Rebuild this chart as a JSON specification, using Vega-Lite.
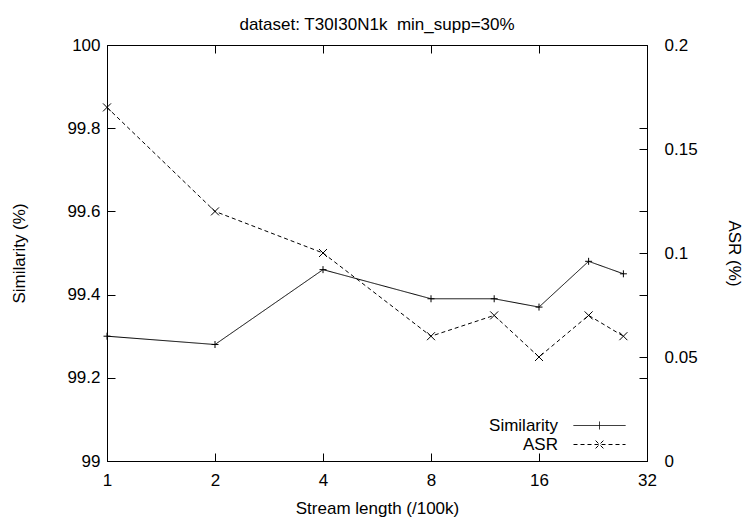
{
  "$schema": "https://vega.github.io/schema/vega-lite/v6.json",
  "width": 540,
  "height": 416,
  "autosize": {"type": "none"},
  "padding": {"left": 107, "top": 45, "right": 98, "bottom": 56},
  "background": "white",
  "title": {"text": "dataset: T30I30N1k\u00a0 min_supp=30%", "fontSize": 17, "fontWeight": "normal", "font": "Liberation Sans", "color": "black", "offset": 2},
  "config": {
    "font": "Liberation Sans",
    "view": {"stroke": "black", "strokeWidth": 1},
    "axis": {
      "grid": false,
      "domainColor": "black",
      "tickColor": "black",
      "tickSize": -8,
      "tickWidth": 1,
      "labelFontSize": 17,
      "labelColor": "black",
      "titleFontSize": 17,
      "titleFontWeight": "normal",
      "titleColor": "black",
      "labelFlush": false,
      "labelOverlap": false
    },
    "legend": {
      "orient": "none",
      "legendX": 466,
      "legendY": 372,
      "title": null,
      "symbolSize": 2704,
      "symbolStrokeWidth": 1,
      "symbolStrokeColor": "black",
      "labelFontSize": 17,
      "labelColor": "black",
      "rowPadding": 1
    }
  },
  "data": {
    "values": [
      {"length": 1, "series": "Similarity", "value": 99.30},
      {"length": 2, "series": "Similarity", "value": 99.28},
      {"length": 4, "series": "Similarity", "value": 99.46},
      {"length": 8, "series": "Similarity", "value": 99.39},
      {"length": 12, "series": "Similarity", "value": 99.39},
      {"length": 16, "series": "Similarity", "value": 99.37},
      {"length": 22, "series": "Similarity", "value": 99.48},
      {"length": 27.5, "series": "Similarity", "value": 99.45},
      {"length": 1, "series": "ASR", "value": 0.17},
      {"length": 2, "series": "ASR", "value": 0.12},
      {"length": 4, "series": "ASR", "value": 0.10},
      {"length": 8, "series": "ASR", "value": 0.06},
      {"length": 12, "series": "ASR", "value": 0.07},
      {"length": 16, "series": "ASR", "value": 0.05},
      {"length": 22, "series": "ASR", "value": 0.07},
      {"length": 27.5, "series": "ASR", "value": 0.06}
    ]
  },
  "layer": [
    {
      "transform": [{"filter": "datum.series === 'Similarity'"}],
      "encoding": {
        "x": {
          "field": "length", "type": "quantitative",
          "scale": {"type": "log", "base": 2, "domain": [1, 32]},
          "axis": {"orient": "bottom", "values": [1, 2, 4, 8, 16, 32], "format": "~g", "title": "Stream length (/100k)", "labelPadding": 19, "titlePadding": 12}
        },
        "y": {
          "field": "value", "type": "quantitative",
          "scale": {"domain": [99, 100], "zero": false},
          "axis": {"orient": "left", "values": [99, 99.2, 99.4, 99.6, 99.8, 100], "format": "~g", "title": "Similarity (%)", "labelPadding": 15, "titlePadding": 38}
        }
      },
      "layer": [
        {
          "mark": {"type": "line", "color": "black", "strokeWidth": 1},
          "encoding": {
            "strokeDash": {
              "field": "series", "type": "nominal",
              "scale": {"domain": ["Similarity", "ASR"], "range": [[1, 0], [4, 3]]},
              "legend": {
                "encode": {
                  "symbols": {"update": {
                    "shape": {"signal": "datum.value === 'Similarity' ? 'M-1,0H1M0,-0.15V0.15' : 'M-1,0H1M-0.15,-0.15L0.15,0.15M-0.15,0.15L0.15,-0.15'"},
                    "stroke": {"value": "black"},
                    "fill": {"value": "transparent"},
                    "y": {"value": 8.5}
                  }},
                  "labels": {"update": {"x": {"value": -15}, "y": {"value": 8.5}, "align": {"value": "right"}}}
                }
              }
            }
          }
        },
        {
          "mark": {"type": "point", "shape": "M-1,0H1M0,-1V1", "size": 49, "filled": false, "color": "black", "strokeWidth": 1, "opacity": 1}
        }
      ]
    },
    {
      "transform": [{"filter": "datum.series === 'ASR'"}],
      "encoding": {
        "x": {
          "field": "length", "type": "quantitative",
          "scale": {"type": "log", "base": 2, "domain": [1, 32]},
          "axis": {"orient": "top", "values": [2, 4, 8, 16], "labels": false, "title": null}
        },
        "y": {
          "field": "value", "type": "quantitative",
          "scale": {"domain": [0, 0.2]},
          "axis": {
            "orient": "right",
            "values": [0, 0.04, 0.05, 0.08, 0.1, 0.12, 0.15, 0.16, 0.2],
            "labelExpr": "indexof([0, 0.05, 0.1, 0.15, 0.2], datum.value) >= 0 ? format(datum.value, '~g') : ''",
            "title": "ASR (%)", "labelPadding": 25, "titlePadding": 27
          }
        }
      },
      "layer": [
        {
          "mark": {"type": "line", "color": "black", "strokeWidth": 1},
          "encoding": {
            "strokeDash": {"field": "series", "type": "nominal"}
          }
        },
        {
          "mark": {"type": "point", "shape": "M-1,-1L1,1M-1,1L1,-1", "size": 64, "filled": false, "color": "black", "strokeWidth": 1, "opacity": 1}
        }
      ]
    }
  ],
  "resolve": {"scale": {"y": "independent"}, "axis": {"x": "independent"}}
}
